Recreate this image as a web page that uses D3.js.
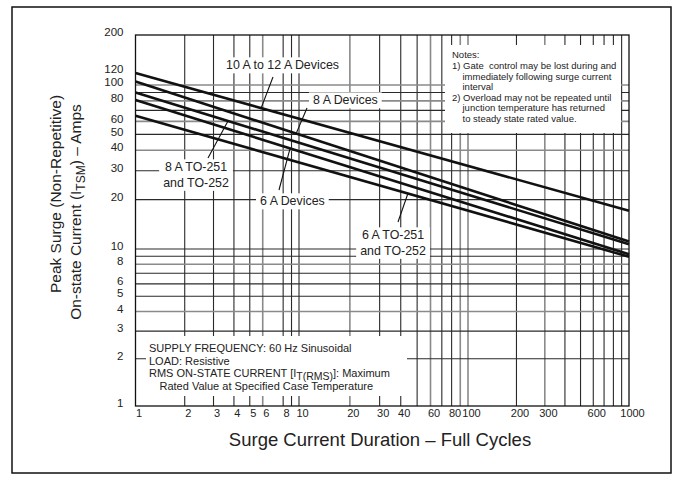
<!DOCTYPE html>
<html>
<head>
<meta charset="utf-8">
<script src="https://cdn.jsdelivr.net/npm/d3@7"></script>
<style>
  html, body { margin: 0; padding: 0; background: #fff; }
  svg { display: block; font-family: "Liberation Sans", Arial, Helvetica, sans-serif; }
  text { fill: #222; }
</style>
</head>
<body>
<svg id="chart" width="683" height="480"></svg>
<script>
// ---------------- data ----------------
const durations = [1, 1000];                 // full cycles (line end points)
const dev10to12A = [118, 17.1];              // 10 A to 12 A Devices
const dev8A      = [105, 11.1];              // 8 A Devices
const dev8ATO    = [90, 10.7];               // 8 A TO-251 and TO-252
const dev6A      = [81, 9.25];               // 6 A Devices
const dev6ATO    = [65, 8.93];               // 6 A TO-251 and TO-252

const xTickLabels = [1, 2, 3, 4, 5, 6, 8, 10, 20, 30, 40, 60, 80, 100, 200, 300, 600, 1000];
const yTickLabels = [1, 2, 3, 4, 5, 6, 8, 10, 20, 30, 40, 50, 60, 80, 100, 120, 200];
const xGridValues = [2, 3, 4, 5, 6, 8, 9, 10, 20, 30, 40, 50, 60, 70, 80, 90, 100,
                     200, 300, 400, 500, 600, 700, 800, 900];
const yGridValues = [2, 3, 4, 5, 6, 7, 8, 9, 10, 20, 30, 40, 50, 60, 70, 80, 90, 100];
const xGridLight = [6, 20, 60, 90, 100, 300];
const yGridLight = [4, 8, 40, 60, 80, 100];

const notesLines = [
  ["Notes:", 0],
  ["1) Gate  control may be lost during and", 0],
  ["immediately following surge current", 1],
  ["interval", 1],
  ["2) Overload may not be repeated until", 0],
  ["junction temperature has returned", 1],
  ["to steady state rated value.", 1]
];

// ---------------- layout ----------------
const svg = d3.select("#chart");
const L = 135.5, R = 629, T = 35, B = 406;

const x = d3.scaleLog().domain([1, 10, 100, 1000]).range([L, 299, 468, R]);
const y = d3.scaleLog().domain([1, 10, 100, 200]).range([B, 249, 85, T]);

// outer frame
svg.append("rect").attr("x", 12).attr("y", 7).attr("width", 659).attr("height", 466)
  .attr("fill", "none").attr("stroke", "#111").attr("stroke-width", 1.5);

// grid
const grid = svg.append("g");
grid.selectAll("line.vx").data(xGridValues).join("line")
  .attr("x1", d => x(d)).attr("x2", d => x(d)).attr("y1", T).attr("y2", B)
  .attr("stroke", d => xGridLight.includes(d) ? "#8a8a8a" : "#2a2a2a")
  .attr("stroke-width", d => xGridLight.includes(d) ? 1.6 : 1.1);
grid.selectAll("line.hy").data(yGridValues).join("line")
  .attr("x1", L).attr("x2", R).attr("y1", d => y(d)).attr("y2", d => y(d))
  .attr("stroke", d => yGridLight.includes(d) ? "#8a8a8a" : "#2a2a2a")
  .attr("stroke-width", d => yGridLight.includes(d) ? 1.6 : 1.1);

// white boxes for notes
const whiteBoxes = svg.append("g");
whiteBoxes.append("rect").attr("x", 445).attr("y", 45).attr("width", 176).attr("height", 88).attr("fill", "#fff");
whiteBoxes.append("rect").attr("x", 146).attr("y", 336).attr("width", 261).attr("height", 60).attr("fill", "#fff");

// plot frame
svg.append("rect").attr("x", L).attr("y", T).attr("width", R - L).attr("height", B - T)
  .attr("fill", "none").attr("stroke", "#111").attr("stroke-width", 1.3);

// annotation label boxes
const series = [dev10to12A, dev8A, dev8ATO, dev6A, dev6ATO];
function curveVal(s, c) {
  const t = (Math.log10(c) - Math.log10(durations[0])) / (Math.log10(durations[1]) - Math.log10(durations[0]));
  return Math.pow(10, Math.log10(s[0]) + t * (Math.log10(s[1]) - Math.log10(s[0])));
}
const annotations = [
  { lines: ["10 A to 12 A Devices"], anchor: "start", tx: 226, ty: 65, s: 0, lx: 273, ly: 77, cx: 261 },
  { lines: ["8 A Devices"], anchor: "start", tx: 313, ty: 100, s: 1, lx: 307, ly: 108, cx: 296 },
  { lines: ["8 A TO-251", "and TO-252"], anchor: "middle", tx: 196, ty: 167, s: 2, lx: 208, ly: 158, cx: 228 },
  { lines: ["6 A Devices"], anchor: "start", tx: 260, ty: 201, s: 3, lx: 279, ly: 190, cx: 290 },
  { lines: ["6 A TO-251", "and TO-252"], anchor: "middle", tx: 393, ty: 235, s: 4, lx: 398, ly: 222, cx: 408 }
];

const annBoxes = svg.append("g");
const curves = svg.append("g");
const leaders = svg.append("g");
const annText = svg.append("g");

annotations.forEach(a => {
  const g = annText.append("g");
  a.lines.forEach((ln, i) => {
    g.append("text").attr("x", a.tx).attr("y", a.ty + i * 15.5)
      .attr("dy", "0.35em").attr("text-anchor", a.anchor)
      .attr("font-size", 12.4).text(ln);
  });
  const bb = g.node().getBBox();
  annBoxes.append("rect").attr("x", bb.x - 4).attr("y", bb.y - 1).attr("width", bb.width + 8)
    .attr("height", bb.height + 2).attr("fill", "#fff");
});

// curves
const line = d3.line().x(d => x(d[0])).y(d => y(d[1]));
curves.selectAll("path").data(series).join("path")
  .attr("d", s => line(durations.map((c, i) => [c, s[i]])))
  .attr("fill", "none").attr("stroke", "#111").attr("stroke-width", 2.6);

// leaders
annotations.forEach(a => {
  const c = x.invert(a.cx);
  leaders.append("line").attr("x1", a.lx).attr("y1", a.ly)
    .attr("x2", x(c)).attr("y2", y(curveVal(series[a.s], c)))
    .attr("stroke", "#111").attr("stroke-width", 1.1);
});

// axes tick labels
const xAxis = d3.axisBottom(x).tickValues(xTickLabels).tickSize(0).tickPadding(3).tickFormat(d3.format("d"));
const gx = svg.append("g").attr("transform", `translate(3,${B})`).call(xAxis);
gx.select(".domain").remove();
gx.selectAll("text").attr("font-size", 11).attr("fill", "#222").attr("font-family", null);

const yAxis = d3.axisLeft(y).tickValues(yTickLabels).tickSize(0).tickPadding(12).tickFormat(d3.format("d"));
const gy = svg.append("g").attr("transform", `translate(${L},-3)`).call(yAxis);
gy.select(".domain").remove();
gy.selectAll("text").attr("font-size", 11.5).attr("fill", "#222").attr("font-family", null);

// notes
const notes = svg.append("g").attr("font-size", 9.5);
notesLines.forEach(([t, ind], i) => {
  notes.append("text").attr("x", ind ? 462.5 : 452).attr("y", 55 + i * 10.6)
    .attr("dy", "0.35em").style("white-space", "pre").text(t);
});

// bottom-left conditions box
const cond = svg.append("g").attr("font-size", 11);
cond.append("text").attr("x", 149).attr("y", 348).attr("dy", "0.35em").text("SUPPLY FREQUENCY: 60 Hz Sinusoidal");
cond.append("text").attr("x", 149).attr("y", 361).attr("dy", "0.35em").text("LOAD: Resistive");
const rms = cond.append("text").attr("x", 149).attr("y", 373).attr("dy", "0.35em");
rms.append("tspan").text("RMS ON-STATE CURRENT [I");
rms.append("tspan").attr("dy", 3).attr("font-size", 10.5).text("T(RMS)");
rms.append("tspan").attr("dy", -3).text("]: Maximum");
cond.append("text").attr("x", 159.5).attr("y", 386.5).attr("dy", "0.35em").text("Rated Value at Specified Case Temperature");

// axis titles
svg.append("text").attr("x", 380).attr("y", 446).attr("text-anchor", "middle")
  .attr("font-size", 18.5).text("Surge Current Duration \u2013 Full Cycles");

svg.append("text").attr("transform", "translate(60.5,194) rotate(-90)")
  .attr("text-anchor", "middle").attr("font-size", 15.5).text("Peak Surge (Non-Repetitive)");
const yt2 = svg.append("text").attr("transform", "translate(81,212) rotate(-90)")
  .attr("text-anchor", "middle").attr("font-size", 15.5);
yt2.append("tspan").text("On-state Current (I");
yt2.append("tspan").attr("dy", 4).attr("font-size", 12).text("TSM");
yt2.append("tspan").attr("dy", -4).text(") \u2013 Amps");
</script>
</body>
</html>
